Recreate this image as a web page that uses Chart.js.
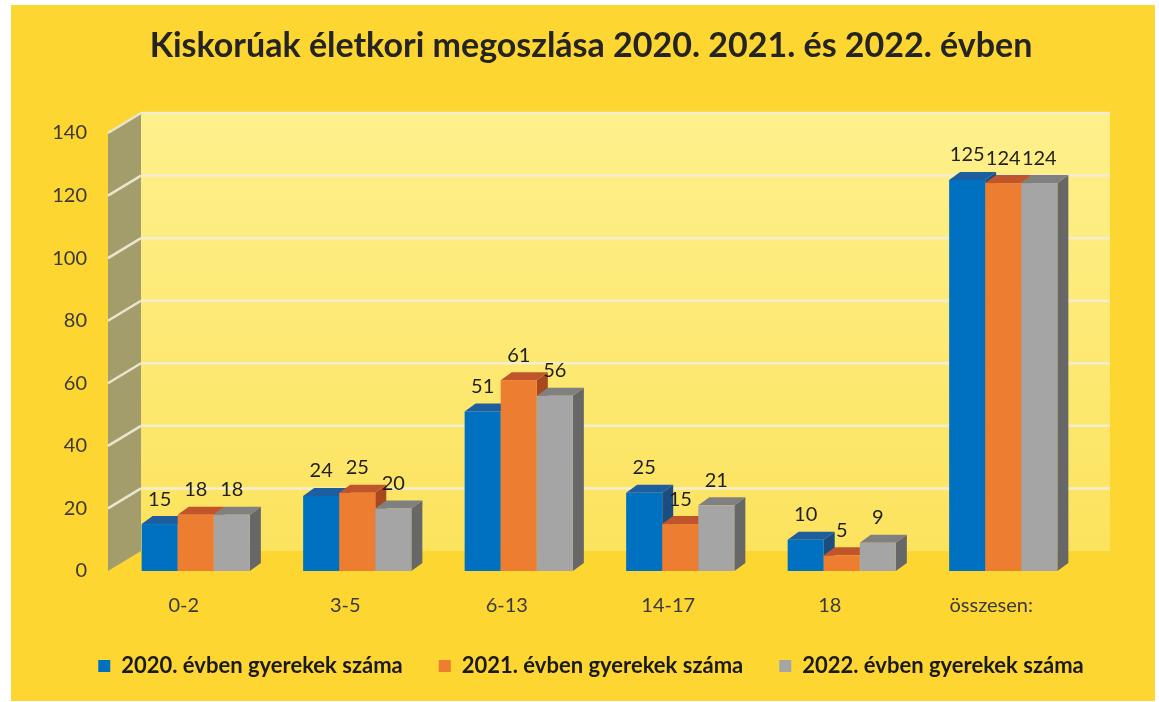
<!DOCTYPE html>
<html>
<head>
<meta charset="utf-8">
<script src="https://cdn.jsdelivr.net/npm/chart.js@4.4.0/dist/chart.umd.min.js"></script>
<style>
  html, body { margin: 0; padding: 0; background: #fff; }
</style>
</head>
<body>
<canvas id="myChart" width="1159" height="702"></canvas>
<script>
// categories and values
const categories = ["0-2", "3-5", "6-13", "14-17", "18", "összesen:"];
const seriesNames = [
  "2020. évben gyerekek száma",
  "2021. évben gyerekek száma",
  "2022. évben gyerekek száma",
];
const values2020 = [15, 24, 51, 25, 10, 125];
const values2021 = [18, 25, 61, 15, 5, 124];
const values2022 = [18, 20, 56, 21, 9, 124];
const yTicks = [0, 20, 40, 60, 80, 100, 120, 140];

const frontColors = ["#0070C0", "#ED7D31", "#A5A5A5"];
const topColors = ["#1D5E9E", "#C0542A", "#808080"];
const sideColors = ["#1A4E80", "#A8481F", "#676767"];

const FONT = "Lato, 'Open Sans', sans-serif";
const DX = 26, DY = -20;   // depth of the walls
const BDX = 11, BDY = -8;  // depth of the bars

function poly(ctx, pts, color) {
  ctx.beginPath();
  ctx.moveTo(pts[0][0], pts[0][1]);
  for (let i = 1; i < pts.length; i++) ctx.lineTo(pts[i][0], pts[i][1]);
  ctx.closePath();
  ctx.fillStyle = color;
  ctx.fill();
}

// background, back wall, left wall and gridlines
const wallsPlugin = {
  id: "walls",
  beforeDraw(chart) {
    const { ctx, chartArea: a, scales: { y } } = chart;
    ctx.save();
    ctx.fillStyle = "#fff";
    ctx.fillRect(0, 0, chart.width, chart.height);
    ctx.fillStyle = "#FDD631";
    ctx.fillRect(11, 5, 1144, 696);

    const top = y.getPixelForValue(yTicks[yTicks.length - 1]);
    const bot = y.getPixelForValue(0);
    const fx = a.left - 7;

    // back wall
    const g = ctx.createLinearGradient(0, top + DY, 0, bot + DY);
    g.addColorStop(0, "#FEF08C");
    g.addColorStop(1, "#FCE35E");
    ctx.fillStyle = g;
    ctx.fillRect(a.left + DX, top + DY, a.right - a.left, bot - top);

    // left wall
    poly(ctx, [[fx, top], [a.left + DX, top + DY], [a.left + DX, bot + DY], [fx, bot]], "#A39D6B");

    // gridlines
    ctx.lineWidth = 2.5;
    yTicks.forEach((v) => {
      if (v === 0) return;
      const py = y.getPixelForValue(v);
      ctx.strokeStyle = "#F3EED3";
      ctx.beginPath();
      ctx.moveTo(a.left + DX, py + DY);
      ctx.lineTo(a.right + DX, py + DY);
      ctx.stroke();
      ctx.strokeStyle = "#E9E6CF";
      ctx.beginPath();
      ctx.moveTo(fx, py);
      ctx.lineTo(a.left + DX, py + DY);
      ctx.stroke();
    });
    ctx.restore();
  },
  // 3D bars, drawn category by category so the faces overlap correctly
  beforeDatasetsDraw(chart) {
    const { ctx } = chart;
    const metas = [0, 1, 2].map((i) => chart.getDatasetMeta(i));
    ctx.save();
    for (let c = 0; c < categories.length; c++) {
      for (let s = 0; s < metas.length; s++) {
        const bar = metas[s].data[c];
        const half = bar.width / 2;
        const l = bar.x - half, r = bar.x + half, t = bar.y, b = bar.base;
        poly(ctx, [[r, b], [r + BDX, b + BDY], [r + BDX, t + BDY], [r, t]], sideColors[s]);
        poly(ctx, [[l, t], [l + BDX, t + BDY], [r + BDX, t + BDY], [r, t]], topColors[s]);
        ctx.fillStyle = frontColors[s];
        ctx.fillRect(l, t, r - l, b - t);
      }
    }
    // value labels
    ctx.font = "20px " + FONT;
    ctx.fillStyle = "#1F1F1F";
    ctx.textAlign = "center";
    ctx.textBaseline = "middle";
    metas.forEach((meta, s) => {
      meta.data.forEach((bar, i) => {
        const v = chart.data.datasets[s].data[i];
        ctx.fillText(String(v), bar.x, bar.y - 25);
      });
    });
    ctx.restore();
    return false;
  },
};

const ctx = document.getElementById("myChart").getContext("2d");

const myChart = new Chart(ctx, {
  type: "bar",
  data: {
    labels: categories,
    datasets: [values2020, values2021, values2022].map((vals, i) => ({
      label: seriesNames[i],
      data: vals,
      backgroundColor: frontColors[i],
      borderWidth: 0,
      barPercentage: 1,
      categoryPercentage: 0.67,
    })),
  },
  options: {
    responsive: false,
    animation: false,
    layout: { padding: { left: 50, right: 27, top: 0, bottom: 15 } },
    plugins: {
      title: {
        display: true,
        text: "Kiskorúak életkori megoszlása 2020. 2021. és 2022. évben",
        color: "#242424",
        font: { family: FONT, size: 34, weight: "bold" },
        padding: { top: 25.6, bottom: 66.6 },
      },
      legend: {
        position: "bottom",
        labels: {
          boxWidth: 12,
          boxHeight: 12,
          padding: 14,
          color: "#1A1A1A",
          font: { family: FONT, size: 22, weight: "bold" },
          // wider gap between the legend items
          generateLabels(chart) {
            const items = Chart.defaults.plugins.legend.labels.generateLabels(chart);
            items.forEach((it, i) => {
              if (i < items.length - 1) it.text += "\u2003\u2005";
            });
            return items;
          },
        },
      },
      tooltip: { enabled: false },
    },
    scales: {
      x: {
        grid: { display: false, drawTicks: false },
        border: { display: false },
        ticks: {
          color: "#3A3A3A",
          padding: 23,
          labelOffset: -12,
          font: { family: FONT, size: 20 },
        },
      },
      y: {
        min: 0,
        max: 140,
        grid: { display: false, drawTicks: false },
        border: { display: false },
        afterFit: (scale) => { scale.width = 65; },
        ticks: {
          stepSize: 20,
          color: "#3A3A3A",
          padding: 28,
          font: { family: FONT, size: 20 },
        },
      },
      // empty axis on the right, keeps the plot where the picture has it
      yRight: {
        type: "linear",
        position: "right",
        grid: { display: false, drawTicks: false },
        border: { display: false },
        ticks: { display: false },
        afterFit: (scale) => { scale.width = 48; },
      },
    },
  },
  plugins: [wallsPlugin],
});
</script>
</body>
</html>
